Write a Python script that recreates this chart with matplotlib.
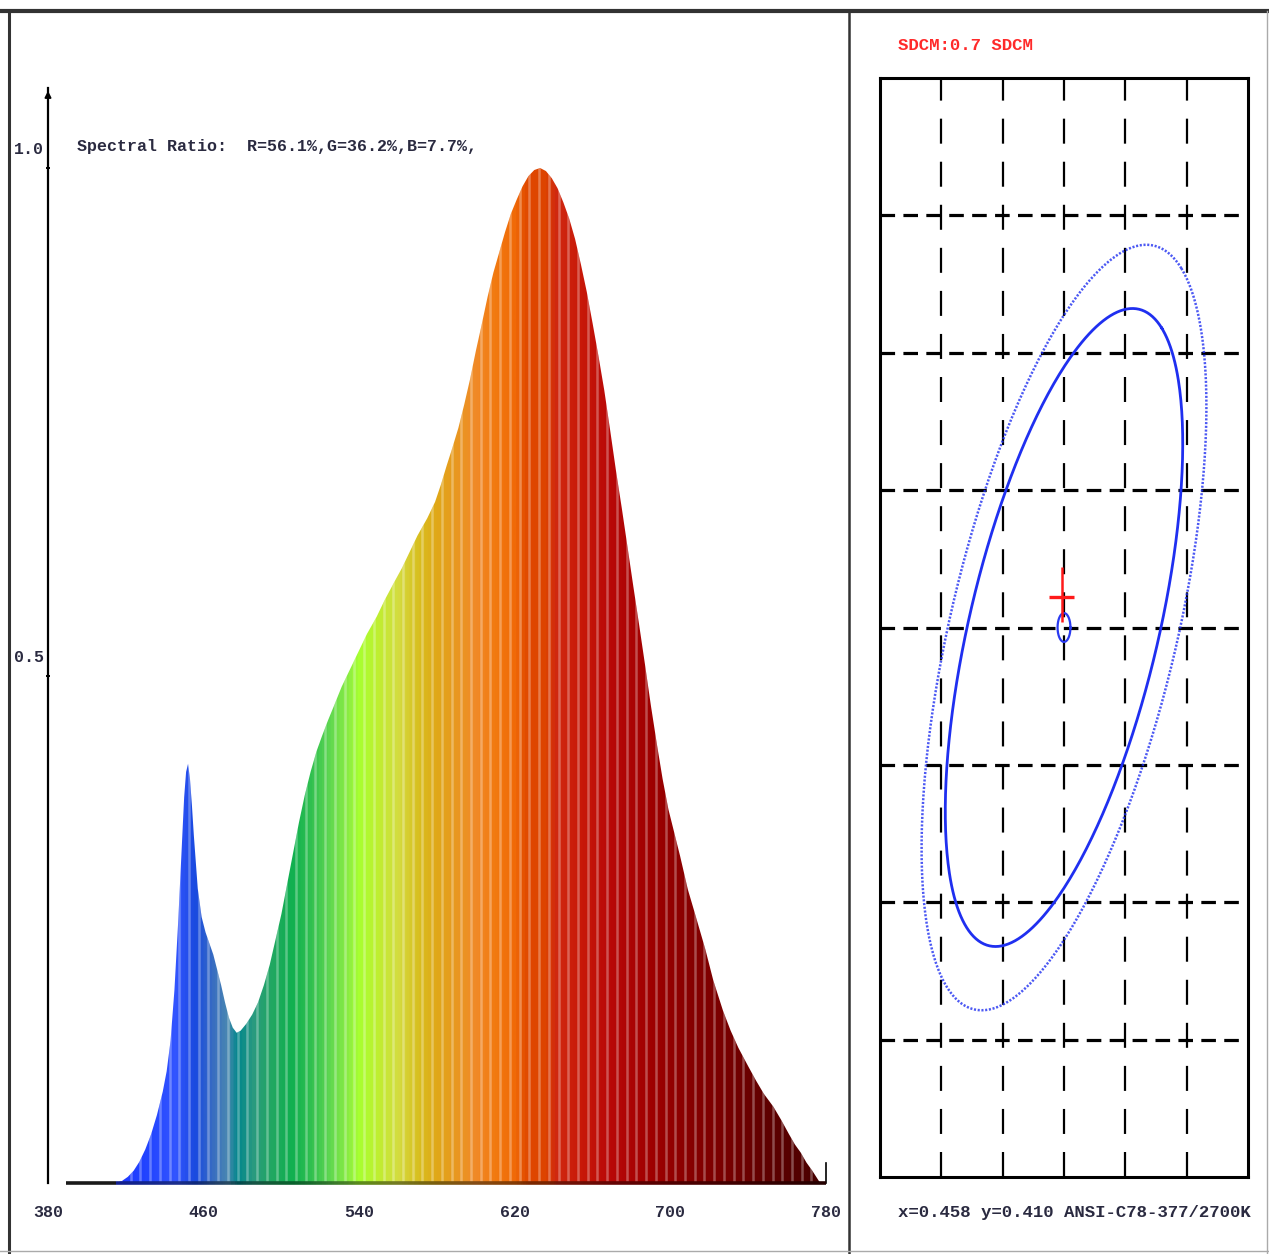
import matplotlib

matplotlib.use("Agg")
import matplotlib.pyplot as plt
import numpy as np
from matplotlib.collections import LineCollection
from matplotlib.colors import LinearSegmentedColormap, Normalize

# ── Spectrum (relative power) ────────────────────────────────────────────────
WAVELENGTH = [415, 418, 421, 424, 427, 430, 433, 436, 439, 441, 443, 445, 447,
              449, 450, 451, 452, 453, 454, 455, 457, 459, 461, 463, 465, 467,
              469, 471, 473, 475, 477, 479, 482, 485, 488, 491, 494, 497, 500,
              503, 506, 509, 512, 515, 518, 521, 524, 527, 531, 536, 540, 544,
              549, 553, 558, 562, 566, 570, 575, 579, 582, 585, 588, 591, 594,
              597, 600, 603, 606, 609, 612, 615, 618, 621, 624, 627, 630, 633,
              636, 639, 642, 645, 648, 651, 654, 657, 660, 663, 666, 669, 672,
              675, 678, 681, 684, 687, 690, 693, 696, 699, 702, 705, 709, 713,
              718, 722, 727, 731, 735, 740, 744, 748, 753, 757, 761, 764, 767,
              770, 773, 777]
POWER = [0.0, 0.002, 0.006, 0.012, 0.021, 0.033, 0.048, 0.067, 0.090, 0.110,
         0.14, 0.19, 0.26, 0.34, 0.38, 0.405, 0.413, 0.398, 0.372, 0.342, 0.29,
         0.262, 0.247, 0.236, 0.225, 0.21, 0.195, 0.178, 0.163, 0.153, 0.148,
         0.150, 0.157, 0.166, 0.178, 0.195, 0.215, 0.24, 0.265, 0.295, 0.325,
         0.355, 0.382, 0.405, 0.425, 0.441, 0.456, 0.470, 0.489, 0.509, 0.525,
         0.541, 0.558, 0.574, 0.592, 0.606, 0.622, 0.638, 0.655, 0.671, 0.688,
         0.707, 0.725, 0.744, 0.767, 0.792, 0.82, 0.846, 0.873, 0.897, 0.917,
         0.937, 0.955, 0.969, 0.982, 0.992, 0.998, 1.0, 0.997, 0.99, 0.98,
         0.966, 0.950, 0.93, 0.905, 0.878, 0.847, 0.815, 0.781, 0.742, 0.702,
         0.665, 0.626, 0.587, 0.549, 0.51, 0.47, 0.433, 0.398, 0.368, 0.345,
         0.322, 0.289, 0.263, 0.230, 0.200, 0.170, 0.15, 0.133, 0.115, 0.101,
         0.088, 0.075, 0.062, 0.048, 0.038, 0.030, 0.020, 0.012, 0.0]
X_TICKS = [380, 460, 540, 620, 700, 780]
Y_TICKS = [0.5, 1.0]
RATIO_TEXT = "Spectral Ratio:  R=56.1%,G=36.2%,B=7.7%,"

# ── Chromaticity panel ───────────────────────────────────────────────────────
CENTER = (0.4578, 0.4101)
GRID_STEP = 0.002
INNER_AXES = (0.0054, 0.00272)
OUTER_AXES = (0.00648, 0.00326)
ELLIPSE_ANGLE = 53.8
MEASURED = (0.45772, 0.41054)
SDCM_TEXT = "SDCM:0.7 SDCM"
COORD_TEXT = "x=0.458 y=0.410 ANSI-C78-377/2700K"

# wavelength -> colour nodes for the rainbow fill
SPEC_NODES = [
    (380, "#1a1aff"), (430, "#2244ff"), (445, "#3355ff"), (455, "#1a4ae0"),
    (465, "#3a70c0"), (472, "#4a88b0"), (477, "#00868c"), (485, "#2a9a80"),
    (495, "#20a860"), (505, "#10b050"), (515, "#30c050"), (525, "#60d850"),
    (535, "#90f040"), (540, "#a8ff30"), (550, "#c0ee30"), (560, "#d4dc40"),
    (570, "#d8c020"), (580, "#e0a818"), (590, "#e89820"), (600, "#f08a28"),
    (610, "#f27a10"), (620, "#f06a08"), (627, "#e04800"), (636, "#dd4400"),
    (642, "#d02810"), (655, "#c81808"), (670, "#b80808"), (690, "#a00000"),
    (710, "#880000"), (730, "#780000"), (750, "#600000"), (770, "#500000"),
    (780, "#400000"),
]

FONT = ["Liberation Mono", "DejaVu Sans Mono"]
TEXT_COLOR = "#2a2a40"
W, H = 1269, 1254

plt.rcParams["lines.scale_dashes"] = False


def px_box(left, top, right, bottom):
    return [left / W, 1 - bottom / H, (right - left) / W, (bottom - top) / H]


fig = plt.figure(figsize=(W / 100, H / 100), dpi=100)

# ── outer frame (pixel coordinates) ──────────────────────────────────────────
bg = fig.add_axes([0, 0, 1, 1])
bg.set_xlim(0, W)
bg.set_ylim(H, 0)
bg.axis("off")
bg.plot([0, W], [11, 11], color="#333333", lw=3)
bg.plot([9, 9], [11, H], color="#333333", lw=2.2)
bg.plot([849, 849], [11, H], color="#333333", lw=1.8)
bg.plot([1267, 1267], [11, H], color="#aaaaaa", lw=1)
bg.plot([0, W], [1251, 1251], color="#aaaaaa", lw=1)

# ── spectrum panel ───────────────────────────────────────────────────────────
y_top = (1183 - 88) / 1015
ax = fig.add_axes(px_box(48, 88, 826, 1183))
ax.set_facecolor("none")

norm = Normalize(380, 780)
cmap = LinearSegmentedColormap.from_list(
    "spec", [((n - 380) / 400, c) for n, c in SPEC_NODES]
)

poly = ax.fill_between(WAVELENGTH, POWER, 0, color="none", lw=0)
clip = poly.get_paths()[0]
grad = np.linspace(380, 780, 801)[None, :]
img = ax.imshow(grad, extent=(380, 780, 0, 1.05), aspect="auto", cmap=cmap,
                norm=norm, origin="lower", interpolation="bilinear", zorder=1)
img.set_clip_path(clip, ax.transData)
stripes = ax.vlines(np.arange(382.5, 780, 5), 0, 1.05, colors="white",
                    alpha=0.3, lw=1.8, zorder=2)
stripes.set_clip_path(clip, ax.transData)

# dark baseline under the spectrum
base_x = np.arange(389, 781, 1.0)
segs = [[(a, 0), (a + 1, 0)] for a in base_x[:-1]]
cols = [(0.1, 0.1, 0.1, 1) if a < WAVELENGTH[0]
        else tuple(np.array(cmap(norm(a)))[:3] * 0.55) + (1,) for a in base_x[:-1]]
ax.add_collection(LineCollection(segs, colors=cols, lw=2.6, zorder=3,
                                 clip_on=False))
ax.plot([780, 780], [0, 0.02], color="black", lw=1.2, clip_on=False)

ax.set_xlim(380, 780)
ax.set_ylim(0, y_top)
for side in ["top", "right", "bottom"]:
    ax.spines[side].set_visible(False)
ax.spines["left"].set_linewidth(1.6)
ax.annotate("", xy=(380, y_top), xytext=(380, y_top - 0.03),
            arrowprops=dict(arrowstyle="-|>", lw=1.4, color="black",
                            mutation_scale=9), annotation_clip=False)
ax.set_xticks(X_TICKS)
ax.set_xticklabels([str(t) for t in X_TICKS], family=FONT, fontsize=12,
                   fontweight="bold", color=TEXT_COLOR)
ax.tick_params(axis="x", length=0, pad=16)
ax.set_yticks(Y_TICKS)
ax.set_yticklabels([])
ax.tick_params(axis="y", length=3, width=1.4, direction="inout")
for v in Y_TICKS:
    ax.annotate(f"{v:.1f}", xy=(380, v), xytext=(-4, 18),
                textcoords="offset pixels", ha="right", va="center",
                family=FONT, fontsize=12, fontweight="bold", color=TEXT_COLOR,
                annotation_clip=False)

fig.text(77 / W, 1 - 147 / H, RATIO_TEXT, family=FONT, fontsize=12,
         fontweight="bold", color=TEXT_COLOR, va="center", ha="left")

# ── chromaticity panel ───────────────────────────────────────────────────────
cx = fig.add_axes(px_box(880, 78, 1248, 1177))
cx.set_xlim(CENTER[0] - 3 * GRID_STEP, CENTER[0] + 3 * GRID_STEP)
cx.set_ylim(CENTER[1] - 4 * GRID_STEP, CENTER[1] + 4 * GRID_STEP)
cx.set_xticks([])
cx.set_yticks([])
for sp in cx.spines.values():
    sp.set_linewidth(2.2)

for k in range(-2, 3):
    cx.axvline(CENTER[0] + k * GRID_STEP, color="black", lw=1.6,
               dashes=(18, 13), zorder=1)
for k in range(-3, 4):
    cx.axhline(CENTER[1] + k * GRID_STEP, color="black", lw=2.3,
               dashes=(10.5, 6), zorder=1)

t = np.linspace(0, 2 * np.pi, 400)
ang = np.deg2rad(ELLIPSE_ANGLE)
for (a, b), style in [(INNER_AXES, dict(lw=2.0, ls="-", alpha=1.0)),
                      (OUTER_AXES, dict(lw=1.8, ls=(0, (1.5, 1.2)), alpha=0.8))]:
    ex = CENTER[0] + a * np.cos(t) * np.cos(ang) - b * np.sin(t) * np.sin(ang)
    ey = CENTER[1] + a * np.cos(t) * np.sin(ang) + b * np.sin(t) * np.cos(ang)
    cx.plot(ex, ey, color="#1f2ff0", zorder=3, **style)

r = 0.105 * GRID_STEP
cx.plot(CENTER[0] + r * np.cos(t), CENTER[1] + r * np.sin(t), color="#2a3af0",
        lw=1.6, zorder=4)

hw, up, dn = 0.21 * GRID_STEP, 0.22 * GRID_STEP, 0.18 * GRID_STEP
cx.plot([MEASURED[0] - hw, MEASURED[0] + hw], [MEASURED[1], MEASURED[1]],
        color="#ff1a1a", lw=2.4, zorder=5, solid_capstyle="butt")
cx.plot([MEASURED[0], MEASURED[0]], [MEASURED[1] - dn, MEASURED[1] + up],
        color="#ff1a1a", lw=1.8, zorder=5, solid_capstyle="butt")

fig.text(898 / W, 1 - 45 / H, SDCM_TEXT, family=FONT, fontsize=12.5,
         fontweight="bold", color="#ff2a2a", va="center", ha="left")
fig.text(898 / W, 1 - 1213 / H, COORD_TEXT, family=FONT, fontsize=12.5,
         fontweight="bold", color=TEXT_COLOR, va="center", ha="left")

fig.savefig("out.png", dpi=100, facecolor="white")
